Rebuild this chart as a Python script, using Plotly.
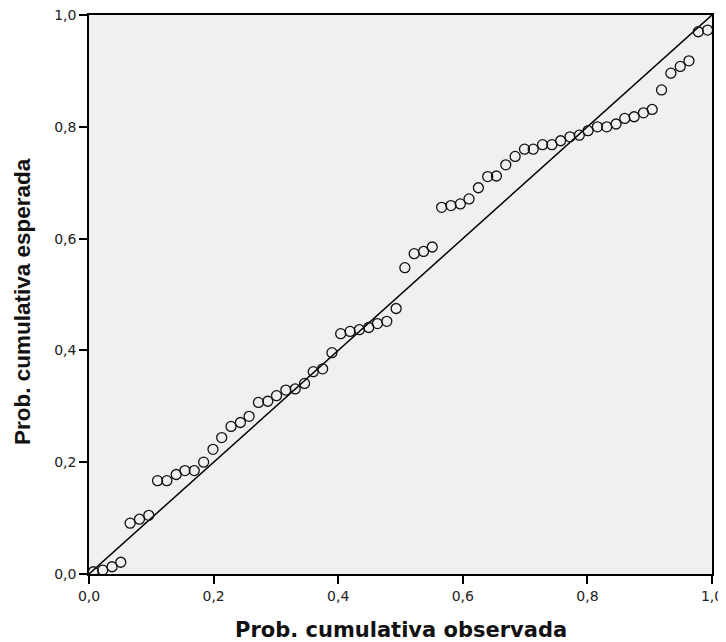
import plotly.graph_objects as go

# Observed cumulative probability (x) and expected cumulative probability (y)
obs_prob = [0.007, 0.022, 0.037, 0.051, 0.066, 0.081, 0.096, 0.110, 0.125, 0.140,
            0.154, 0.169, 0.184, 0.199, 0.213, 0.228, 0.243, 0.257, 0.272, 0.287,
            0.301, 0.316, 0.331, 0.346, 0.360, 0.375, 0.390, 0.404, 0.419, 0.434,
            0.449, 0.463, 0.478, 0.493, 0.507, 0.522, 0.537, 0.551, 0.566, 0.581,
            0.596, 0.610, 0.625, 0.640, 0.654, 0.669, 0.684, 0.699, 0.713, 0.728,
            0.743, 0.757, 0.772, 0.787, 0.801, 0.816, 0.831, 0.846, 0.860, 0.875,
            0.890, 0.904, 0.919, 0.934, 0.949, 0.963, 0.978, 0.993]
exp_prob = [0.004, 0.007, 0.013, 0.021, 0.091, 0.098, 0.105, 0.167, 0.167, 0.178,
            0.185, 0.185, 0.200, 0.223, 0.244, 0.264, 0.271, 0.282, 0.307, 0.309,
            0.319, 0.329, 0.331, 0.341, 0.362, 0.367, 0.396, 0.430, 0.434, 0.437,
            0.441, 0.448, 0.452, 0.475, 0.548, 0.573, 0.577, 0.585, 0.656, 0.659,
            0.662, 0.671, 0.691, 0.711, 0.712, 0.732, 0.747, 0.760, 0.760, 0.768,
            0.768, 0.775, 0.782, 0.785, 0.793, 0.800, 0.800, 0.805, 0.815, 0.818,
            0.825, 0.831, 0.866, 0.896, 0.908, 0.918, 0.970, 0.973]

ref_line = [0.0, 1.0]
tick_vals = [0.0, 0.2, 0.4, 0.6, 0.8, 1.0]
tick_text = ["0,0", "0,2", "0,4", "0,6", "0,8", "1,0"]
x_title = "Prob. cumulativa observada"
y_title = "Prob. cumulativa esperada"

fig = go.Figure()
fig.add_trace(go.Scatter(x=ref_line, y=ref_line, mode="lines",
                         line=dict(color="black", width=1.5),
                         hoverinfo="skip", showlegend=False))
fig.add_trace(go.Scatter(x=obs_prob, y=exp_prob, mode="markers",
                         marker=dict(symbol="circle-open", size=10,
                                     color="#111", line=dict(width=1.3)),
                         showlegend=False))

axis_common = dict(range=[0, 1], tickvals=tick_vals, ticktext=tick_text,
                   showgrid=False, zeroline=False, showline=True,
                   linecolor="black", linewidth=1.5, mirror=True,
                   ticks="outside", ticklen=8, tickcolor="black", tickwidth=2,
                   automargin=False, ticklabeloverflow="allow",
                   tickfont=dict(family="DejaVu Sans", size=14, color="#222"))

# The page body has an 8px margin, so the figure is sized to fit the window
fig.update_layout(
    width=718, height=634,
    margin=dict(l=81, r=14, t=7, b=68),
    paper_bgcolor="white", plot_bgcolor="#F0F0F0",
    font=dict(family="Liberation Sans, Arial", color="black"),
    xaxis=dict(**axis_common),
    yaxis=dict(**axis_common),
    annotations=[
        dict(text="<b>" + x_title + "</b>", xref="paper", yref="paper",
             x=0.5, y=-0.0996, xanchor="center", yanchor="middle",
             showarrow=False,
             font=dict(family="DejaVu Sans", size=21, color="#111")),
        dict(text="<b>" + y_title + "</b>", xref="paper", yref="paper",
             x=-0.1065, y=0.4877, xanchor="center", yanchor="middle",
             textangle=-90, showarrow=False,
             font=dict(family="Liberation Sans, Arial", size=22.5, color="#111")),
    ],
)

fig.write_html("out.html")
